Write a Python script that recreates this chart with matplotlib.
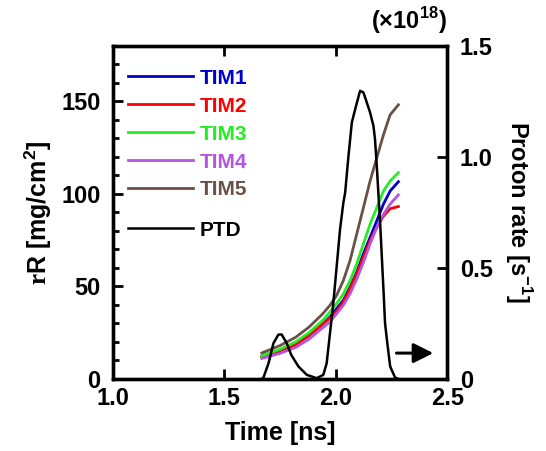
import numpy as np
import matplotlib
matplotlib.use("Agg")
import matplotlib.pyplot as plt
from matplotlib.ticker import MultipleLocator, FixedLocator, FuncFormatter

plt.rcParams['font.family'] = ['Liberation Sans', 'DejaVu Sans']
plt.rcParams['font.weight'] = 'bold'
plt.rcParams['axes.labelweight'] = 'bold'
plt.rcParams['mathtext.fontset'] = 'custom'
plt.rcParams['mathtext.rm'] = 'Liberation Serif'
plt.rcParams['mathtext.bf'] = 'Liberation Sans:bold'

# rR curves (mg/cm2) vs time (ns)
t_tim = [1.668, 1.75, 1.82, 1.88, 1.94, 1.974, 2.004, 2.034, 2.064, 2.094, 2.124,
         2.154, 2.184, 2.214, 2.244, 2.281]
tim1 = [12, 15, 18.5, 23.5, 29.5, 33.5, 38, 42.5, 49.6, 57.7, 67.6, 76.5, 85.5, 94.5, 101.6, 106.6]
tim2 = [12, 15, 18.5, 23.5, 29.5, 33, 36.5, 41.6, 48.8, 56.8, 65.8, 74.7, 81.9, 88, 92, 93.2]
tim3 = [12.5, 16, 20, 25, 31.5, 36.2, 40.7, 46, 53.2, 62.2, 73, 83.7, 92.6, 101.6, 107, 111.5]
tim4 = [11, 13.8, 17, 21.5, 27.5, 30.8, 35.3, 39.8, 46, 54, 63, 73, 81.9, 89, 94.5, 99.5]
tim5 = [14, 18, 22.5, 28, 35, 39.8, 45.2, 53.2, 64, 78.3, 92.6, 107, 119.5, 132, 142.8, 148.2]

# proton rate (x1e18 /s)
t_ptd = [1.668, 1.675, 1.698, 1.72, 1.742, 1.757, 1.78, 1.80, 1.832, 1.87, 1.914,
         1.944, 1.959, 1.974, 1.989, 2.004, 2.019, 2.034, 2.042, 2.057, 2.072, 2.087,
         2.109, 2.124, 2.139, 2.154, 2.169, 2.176, 2.184, 2.199, 2.214, 2.221, 2.229,
         2.244, 2.266, 2.28]
ptd = [0, 0.005, 0.07, 0.16, 0.199, 0.2, 0.16, 0.108, 0.056, 0.018, 0.003,
       0.018, 0.07, 0.206, 0.342, 0.507, 0.673, 0.794, 0.839, 1.005, 1.155, 1.215,
       1.298, 1.291, 1.246, 1.2, 1.14, 1.08, 0.959, 0.704, 0.402, 0.252, 0.18,
       0.056, 0.006, 0]

series = [('TIM1', tim1, '#0000CC'), ('TIM2', tim2, '#FF0000'), ('TIM3', tim3, '#22EE22'),
          ('TIM4', tim4, '#B455E0'), ('TIM5', tim5, '#6B5048')]

fig = plt.figure(figsize=(5.46, 4.51), dpi=100)
ax = fig.add_axes([0.207, 0.160, 0.612, 0.738])

for name, vals, col in series:
    ax.plot(t_tim, vals, color=col, lw=2.0, label=name)

ax.set_xlim(1.0, 2.5)
ax.set_ylim(0, 180)
ax.xaxis.set_major_locator(MultipleLocator(0.5))
ax.yaxis.set_major_locator(FixedLocator([0, 50, 100, 150]))
ax.yaxis.set_minor_locator(MultipleLocator(10))
ax.tick_params(axis='x', direction='in', top=True, length=7, width=2, labelsize=17, pad=6)
ax.tick_params(axis='y', which='major', direction='in', length=7, width=2, labelsize=17, pad=9)
ax.tick_params(axis='y', which='minor', direction='in', length=4, width=2)
for s in ax.spines.values():
    s.set_linewidth(2.4)
ax.xaxis.set_major_formatter(FuncFormatter(lambda v, p: f'{v:.1f}'))
ax.set_xlabel('Time [ns]', fontsize=18, labelpad=8)
ax.set_ylabel(r'$\mathrm{r}$R [mg/cm$^{\mathbf{2}}$]', fontsize=18, labelpad=5)

ax.legend(loc='upper left', bbox_to_anchor=(0.045, 0.932), frameon=False,
          handlelength=3.1, handletextpad=0.35, labelspacing=0.43,
          borderpad=0, borderaxespad=0, labelcolor='linecolor',
          prop={'weight': 'bold', 'size': 15})

ax2 = ax.twinx()
ax2.plot(t_ptd, ptd, color='black', lw=1.8, label='PTD')
ax2.set_ylim(0, 1.5)
ax2.yaxis.set_major_locator(MultipleLocator(0.5))
ax2.yaxis.set_major_formatter(FuncFormatter(lambda v, p: '0' if v == 0 else f'{v:.1f}'))
ax2.tick_params(axis='y', direction='in', length=7, width=2, labelsize=17, pad=9)
for s in ax2.spines.values():
    s.set_linewidth(2.4)
ax2.set_ylabel(r'Proton rate [s$^{\mathbf{-1}}$]', fontsize=17, rotation=-90, labelpad=30)
ax2.text(1.0, 1.03, r'(×10$^{\mathbf{18}}$)', transform=ax2.transAxes,
         ha='right', va='bottom', fontsize=17)
ax2.legend(loc='upper left', bbox_to_anchor=(0.045, 0.475), frameon=False,
           handlelength=3.1, handletextpad=0.35, borderpad=0, borderaxespad=0,
           prop={'weight': 'bold', 'size': 15})

ax2.annotate('', xy=(2.45, 0.116), xytext=(2.26, 0.116),
             arrowprops=dict(arrowstyle='-|>', lw=2.2, color='black', mutation_scale=30))

fig.savefig('out.png', dpi=100)
